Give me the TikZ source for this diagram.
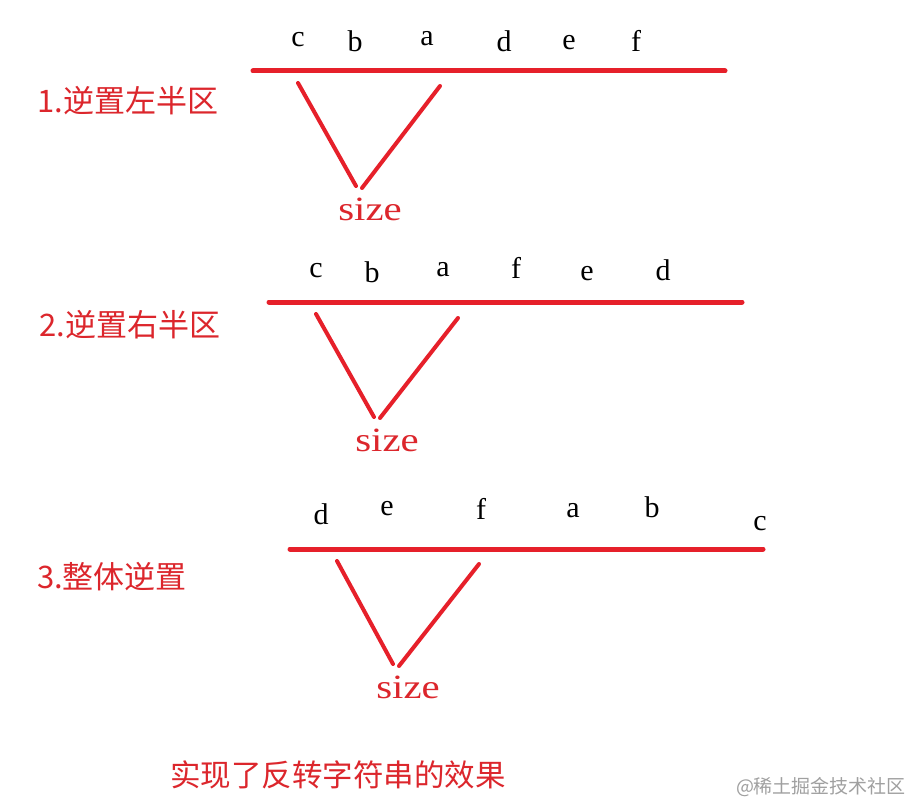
\documentclass[tikz,border=0pt]{standalone}
\usepackage{fontspec}
\setmainfont{Liberation Serif}
\newfontfamily\cjk{Noto Sans CJK SC}
\newfontfamily\letterserif{Liberation Serif}
\newfontfamily\wideserif[FakeStretch=1.2]{Liberation Serif}
\definecolor{penred}{RGB}{230,32,42}
\definecolor{txtred}{RGB}{220,38,44}
\definecolor{wmgray}{RGB}{160,160,160}
\tikzset{
  bar/.style={draw=penred, line width=5pt, line cap=round},
  vee/.style={draw=penred, line width=4pt, line cap=round},
  letter/.style={font=\letterserif\fontsize{30}{30}\selectfont, text=black, inner sep=0pt},
  sizelbl/.style={font=\wideserif\fontsize{34}{34}\selectfont, text=txtred, inner sep=0pt},
  steplbl/.style={font=\cjk\fontsize{31}{31}\selectfont, text=txtred, inner sep=0pt},
  note/.style={font=\cjk\fontsize{30.5}{30.5}\selectfont, text=txtred, inner sep=0pt},
  mark wm/.style={font=\cjk\fontsize{19}{19}\selectfont, text=wmgray, inner sep=0pt}
}
\begin{document}
\begin{tikzpicture}[x=1pt,y=-1pt]
\useasboundingbox[fill=white] (0,0) rectangle (913,805);
% ---- step 1
\coordinate (b1l) at (253,71);
\coordinate (b1r) at (725,71);
\draw[bar] (b1l) -- (b1r);
\node[letter] (l1c) at (298,40) {c};
\node[letter] (l1b) at (355,41) {b};
\node[letter] (l1a) at (427,39) {a};
\node[letter] (l1d) at (504,41) {d};
\node[letter] (l1e) at (569,43) {e};
\node[letter] (l1f) at (636,41) {f};
\node[steplbl] (s1) at (128,101) {1.逆置左半区};
\coordinate (v1a) at (298,83);
\coordinate (v1b) at (356,186);
\coordinate (v1c) at (440,86);
\coordinate (v1d) at (362,188);
\draw[vee] (v1a) -- (v1b);
\draw[vee] (v1c) -- (v1d);
\node[sizelbl] (z1) at (370,209) {size};
% ---- step 2
\coordinate (b2l) at (269,302);
\coordinate (b2r) at (742,302);
\draw[bar] (b2l) -- (b2r);
\node[letter] (l2c) at (316,271) {c};
\node[letter] (l2b) at (372,272) {b};
\node[letter] (l2a) at (443,270) {a};
\node[letter] (l2f) at (516,268) {f};
\node[letter] (l2e) at (587,274) {e};
\node[letter] (l2d) at (663,270) {d};
\node[steplbl] (s2) at (130,325) {2.逆置右半区};
\coordinate (v2a) at (316,314);
\coordinate (v2b) at (374,417);
\coordinate (v2c) at (458,318);
\coordinate (v2d) at (380,418);
\draw[vee] (v2a) -- (v2b);
\draw[vee] (v2c) -- (v2d);
\node[sizelbl] (z2) at (387,440) {size};
% ---- step 3
\coordinate (b3l) at (290,549);
\coordinate (b3r) at (763,549);
\draw[bar] (b3l) -- (b3r);
\node[letter] (l3d) at (321,514) {d};
\node[letter] (l3e) at (387,509) {e};
\node[letter] (l3f) at (481,509) {f};
\node[letter] (l3a) at (573,511) {a};
\node[letter] (l3b) at (652,507) {b};
\node[letter] (l3c) at (760,524) {c};
\node[steplbl] (s3) at (112,577) {3.整体逆置};
\coordinate (v3a) at (337,561);
\coordinate (v3b) at (393,664);
\coordinate (v3c) at (479,564);
\coordinate (v3d) at (399,666);
\draw[vee] (v3a) -- (v3b);
\draw[vee] (v3c) -- (v3d);
\node[sizelbl] (z3) at (408,687) {size};
% ---- bottom
\node[note] (res) at (338,775) {实现了反转字符串的效果};
\node[mark wm] (wm) at (821,787) {@稀土掘金技术社区};
\end{tikzpicture}
\end{document}
